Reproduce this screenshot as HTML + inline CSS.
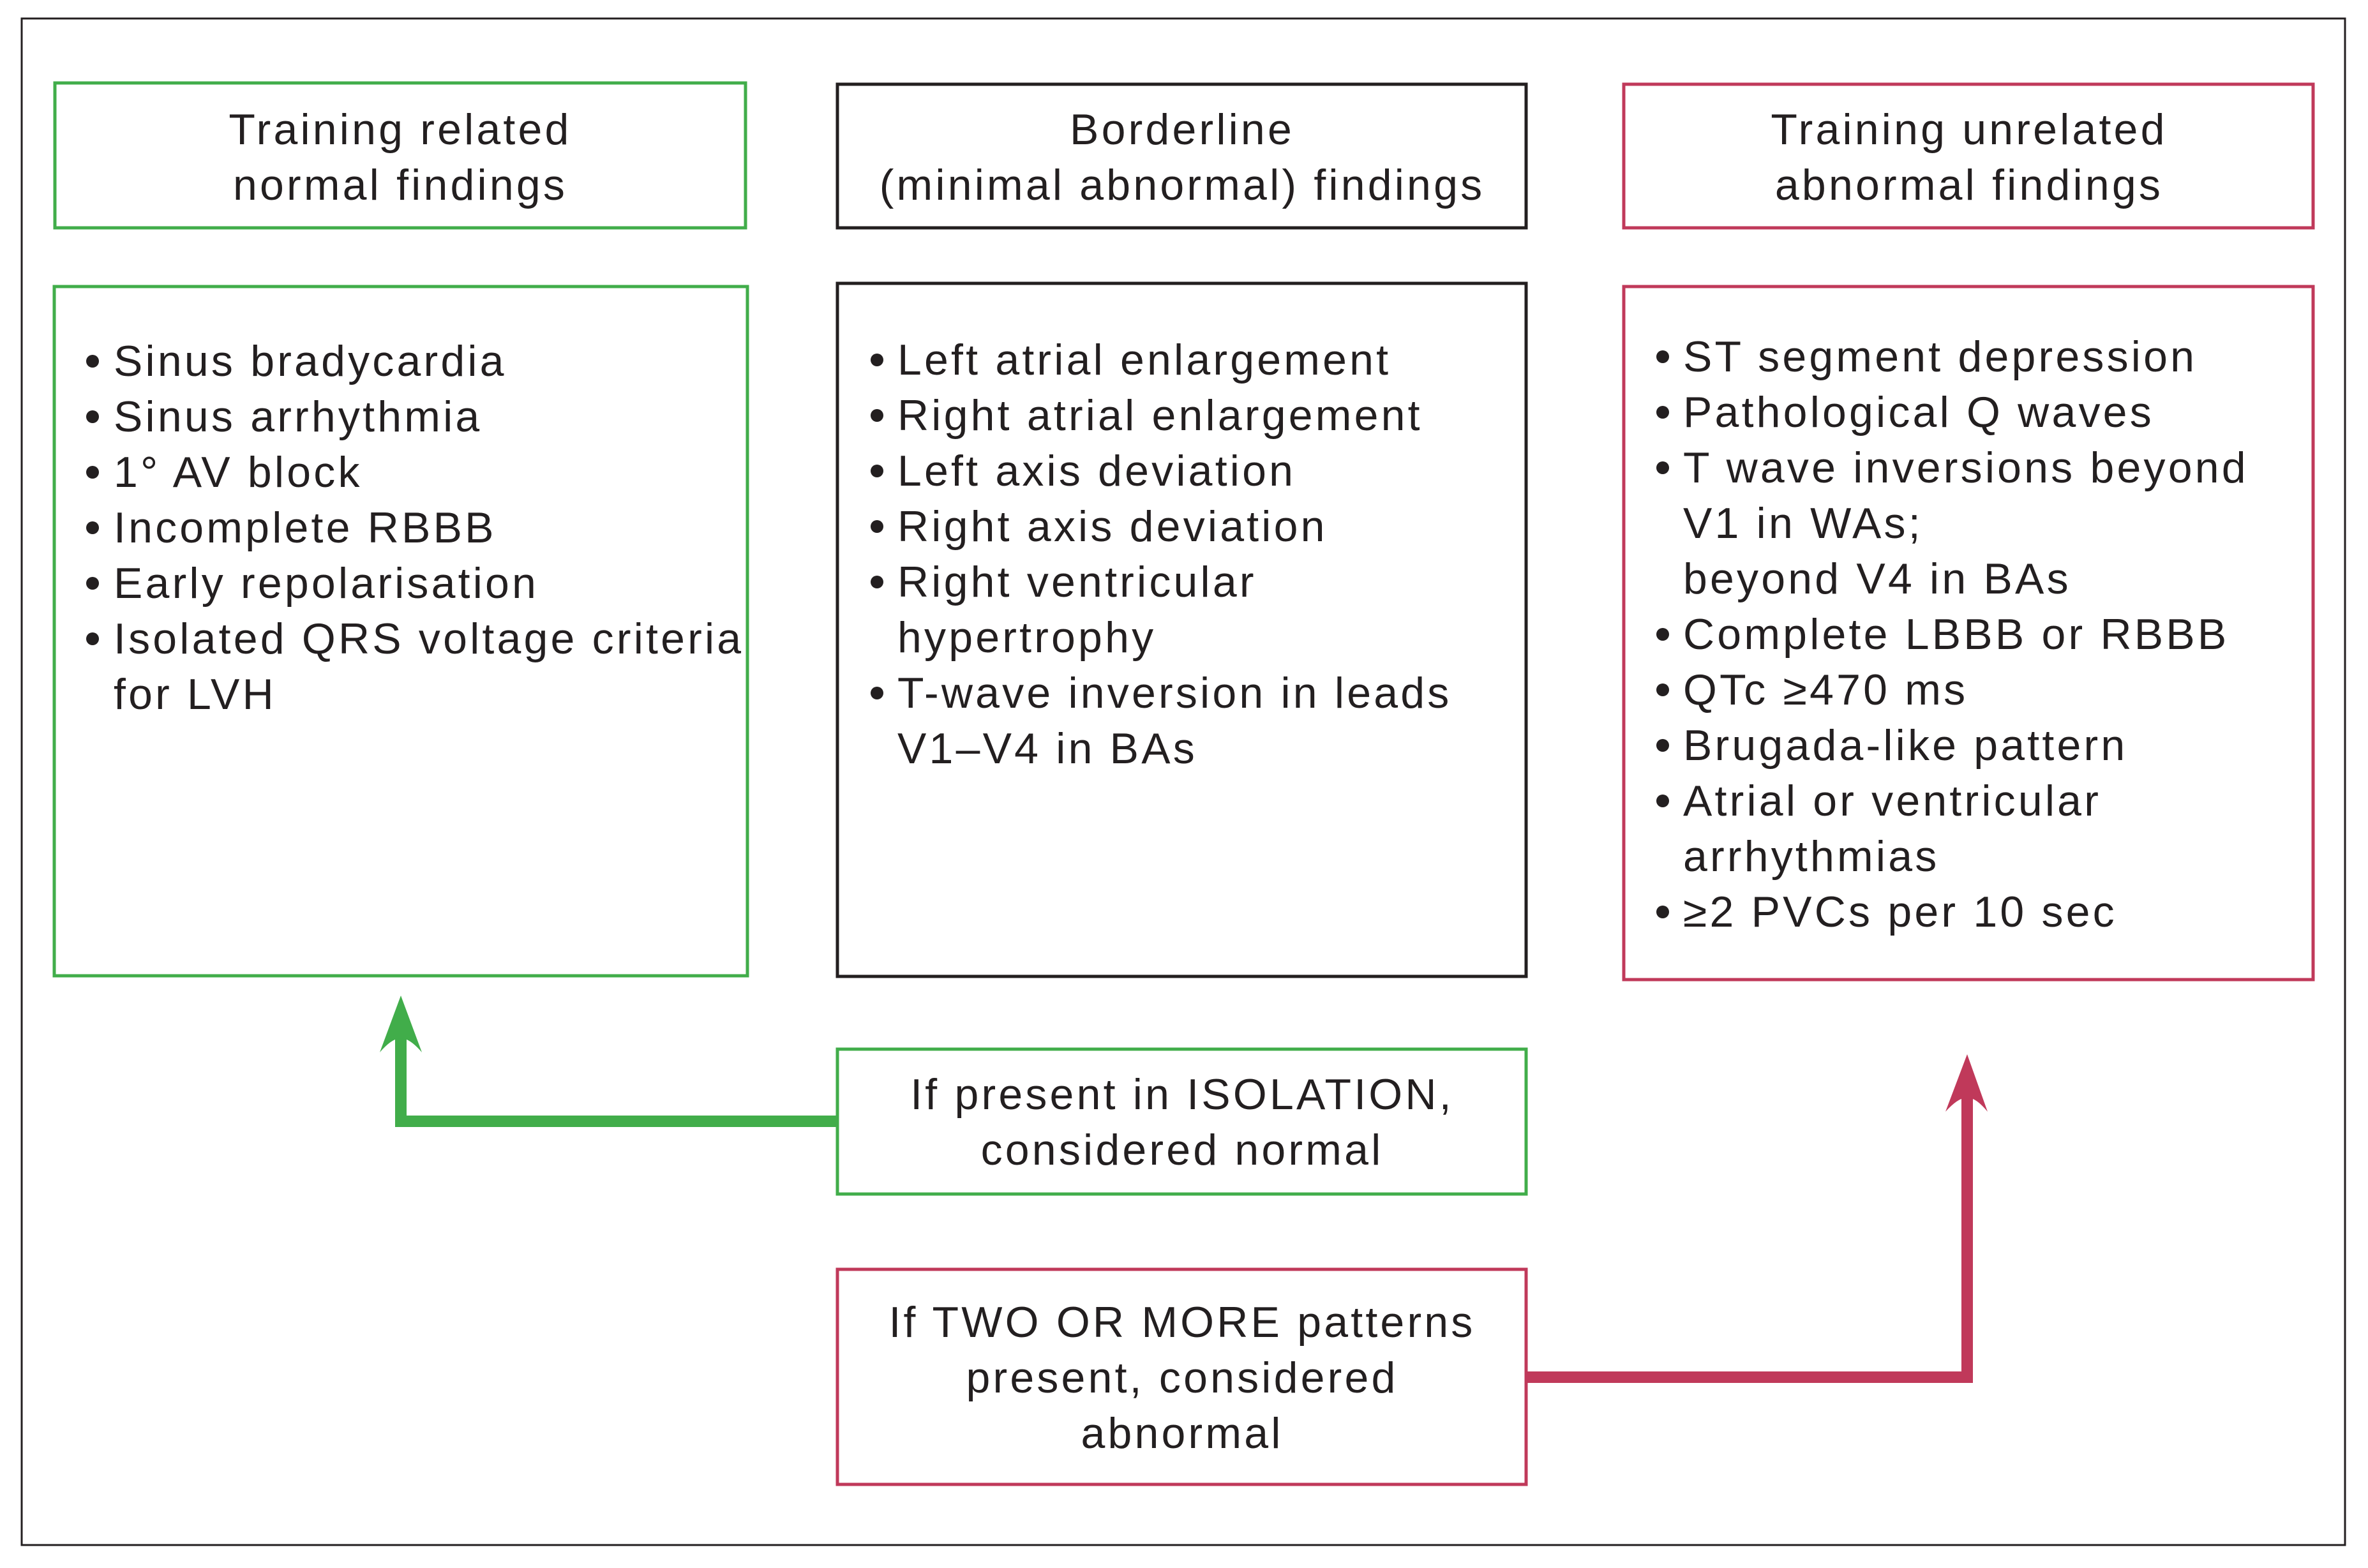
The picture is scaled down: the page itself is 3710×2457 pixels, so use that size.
<!DOCTYPE html>
<html><head><meta charset="utf-8"><style>
html,body{margin:0;padding:0;background:#fff;}
svg{display:block;}
text{font-family:"Liberation Sans",sans-serif;font-size:68px;fill:#231f20;letter-spacing:4.2px;}
</style></head><body>
<svg width="3710" height="2457" viewBox="0 0 3710 2457" xmlns="http://www.w3.org/2000/svg">
<rect x="0" y="0" width="3710" height="2457" fill="#fff"/>
<rect x="34" y="29" width="3640" height="2392" fill="none" stroke="#231f20" stroke-width="3"/>
<g fill="none" stroke-width="5">
<rect x="86" y="130" width="1082" height="227" stroke="#41ad4a"/>
<rect x="85" y="449" width="1086" height="1080" stroke="#41ad4a"/>
<rect x="1312" y="132" width="1079" height="225" stroke="#231f20"/>
<rect x="1312" y="444" width="1079" height="1086" stroke="#231f20"/>
<rect x="2544" y="132" width="1080" height="225" stroke="#c0395a"/>
<rect x="2544" y="449" width="1080" height="1086" stroke="#c0395a"/>
<rect x="1312" y="1644" width="1079" height="227" stroke="#41ad4a"/>
<rect x="1312" y="1989" width="1079" height="337" stroke="#c0395a"/>
</g>
<polyline points="1310,1757 628,1757 628,1620" fill="none" stroke="#41ad4a" stroke-width="18"/>
<path d="M628,1560 L661,1649 Q640,1625 628,1628 Q616,1625 595,1649 Z" fill="#41ad4a"/>
<polyline points="2393,2158 3082,2158 3082,1710" fill="none" stroke="#c0395a" stroke-width="18"/>
<path d="M3082,1652 L3114,1742 Q3094,1718 3082,1721 Q3070,1718 3048,1742 Z" fill="#c0395a"/>
<g text-anchor="middle">
<text x="627" y="226">Training related</text>
<text x="627" y="313">normal findings</text>
<text x="1852" y="226">Borderline</text>
<text x="1852" y="313">(minimal abnormal) findings</text>
<text x="3085" y="226">Training unrelated</text>
<text x="3085" y="313">abnormal findings</text>
<text x="1852" y="1738">If present in ISOLATION,</text>
<text x="1852" y="1825">considered normal</text>
<text x="1852" y="2095">If TWO OR MORE patterns</text>
<text x="1852" y="2182">present, considered</text>
<text x="1852" y="2269">abnormal</text>
</g>
<g fill="#231f20">
<circle cx="145" cy="566" r="10"/><circle cx="145" cy="653" r="10"/><circle cx="145" cy="740" r="10"/>
<circle cx="145" cy="827" r="10"/><circle cx="145" cy="914" r="10"/><circle cx="145" cy="1001" r="10"/>
<circle cx="1374" cy="564" r="10"/><circle cx="1374" cy="651" r="10"/><circle cx="1374" cy="738" r="10"/>
<circle cx="1374" cy="825" r="10"/><circle cx="1374" cy="912" r="10"/><circle cx="1374" cy="1086" r="10"/>
<circle cx="2605" cy="559" r="10"/><circle cx="2605" cy="646" r="10"/><circle cx="2605" cy="733" r="10"/>
<circle cx="2605" cy="994" r="10"/><circle cx="2605" cy="1081" r="10"/><circle cx="2605" cy="1168" r="10"/>
<circle cx="2605" cy="1255" r="10"/><circle cx="2605" cy="1429" r="10"/>
</g>
<g>
<text x="178" y="589">Sinus bradycardia</text>
<text x="178" y="676">Sinus arrhythmia</text>
<text x="178" y="763">1° AV block</text>
<text x="178" y="850">Incomplete RBBB</text>
<text x="178" y="937">Early repolarisation</text>
<text x="178" y="1024">Isolated QRS voltage criteria</text>
<text x="178" y="1111">for LVH</text>
</g>
<g>
<text x="1406" y="587">Left atrial enlargement</text>
<text x="1406" y="674">Right atrial enlargement</text>
<text x="1406" y="761">Left axis deviation</text>
<text x="1406" y="848">Right axis deviation</text>
<text x="1406" y="935">Right ventricular</text>
<text x="1406" y="1022">hypertrophy</text>
<text x="1406" y="1109">T-wave inversion in leads</text>
<text x="1406" y="1196">V1–V4 in BAs</text>
</g>
<g>
<text x="2637" y="582">ST segment depression</text>
<text x="2637" y="669">Pathological Q waves</text>
<text x="2637" y="756">T wave inversions beyond</text>
<text x="2637" y="843">V1 in WAs;</text>
<text x="2637" y="930">beyond V4 in BAs</text>
<text x="2637" y="1017">Complete LBBB or RBBB</text>
<text x="2637" y="1104">QTc ≥470 ms</text>
<text x="2637" y="1191">Brugada-like pattern</text>
<text x="2637" y="1278">Atrial or ventricular</text>
<text x="2637" y="1365">arrhythmias</text>
<text x="2637" y="1452">≥2 PVCs per 10 sec</text>
</g>
</svg>
</body></html>
